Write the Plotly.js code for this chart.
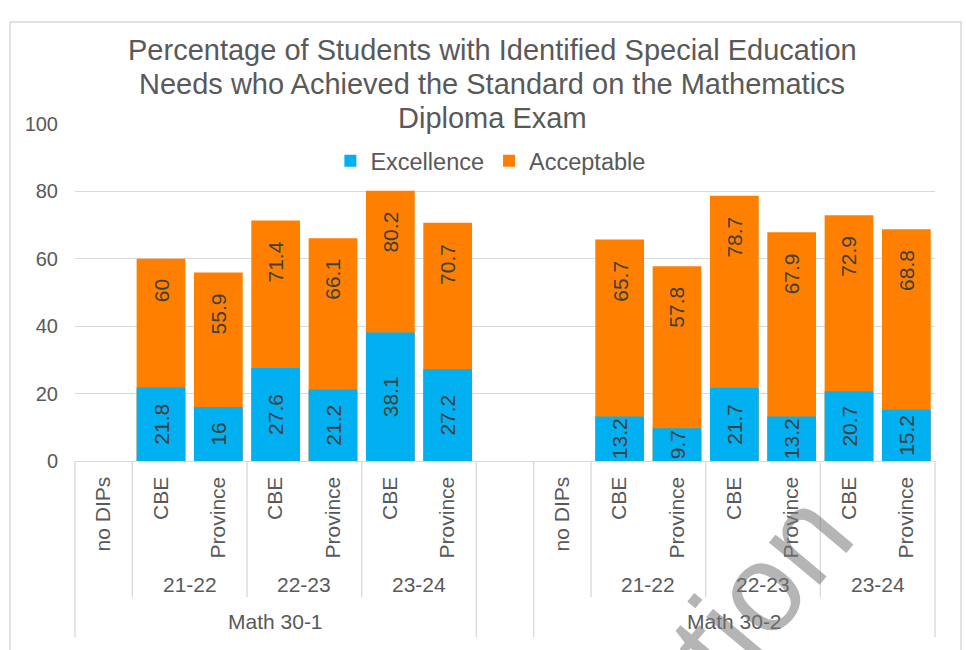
<!DOCTYPE html>
<html>
<head>
<meta charset="utf-8">
<script src="https://cdn.plot.ly/plotly-3.0.1.min.js"></script>
<style>
  html, body { margin: 0; padding: 0; background: #ffffff; overflow: hidden; }
  #wrap { position: relative; width: 966px; height: 650px; overflow: hidden; }
  #chart { width: 966px; height: 650px; }
  #watermark {
    position: absolute; left: 420px; top: 896px;
    transform-origin: 0 0; transform: rotate(-50deg);
    font-family: "Liberation Sans", Arial, sans-serif; font-size: 125px; line-height: 1;
    white-space: nowrap; color: rgba(120,120,120,0.55); pointer-events: none;
  }
</style>
</head>
<body>
<div id="wrap">
  <div id="chart"></div>
  <div id="watermark">Education</div>
</div>
<script>
// ---- Data ----
const titleLines = [
  "Percentage of Students with Identified Special Education",
  "Needs who Achieved the Standard on the Mathematics",
  "Diploma Exam"
];
const courses = ["Math 30-1", "Math 30-2"];
const years = ["21-22", "22-23", "23-24"];
const groups = ["CBE", "Province"];
const noDipsLabel = "no DIPs";
const excellence301 = [21.8, 16, 27.6, 21.2, 38.1, 27.2];
const acceptable301 = [60, 55.9, 71.4, 66.1, 80.2, 70.7];
const excellence302 = [13.2, 9.7, 21.7, 13.2, 20.7, 15.2];
const acceptable302 = [65.7, 57.8, 78.7, 67.9, 72.9, 68.8];
const excellenceByCourse = [excellence301, excellence302];
const acceptableByCourse = [acceptable301, acceptable302];
const seriesNames = ["Excellence", "Acceptable"];

// ---- Build category slots ----
const slotLabel = [], slotYear = [], slotCourse = [], slotExc = [], slotAcc = [];
courses.forEach((c, ci) => {
  if (ci > 0) { slotLabel.push(""); slotYear.push(""); slotCourse.push(""); slotExc.push(null); slotAcc.push(null); }
  slotLabel.push(noDipsLabel); slotYear.push(""); slotCourse.push(c); slotExc.push(null); slotAcc.push(null);
  let k = 0;
  years.forEach(y => {
    groups.forEach(g => {
      slotLabel.push(g); slotYear.push(y); slotCourse.push(c);
      slotExc.push(excellenceByCourse[ci][k]); slotAcc.push(acceptableByCourse[ci][k]);
      k++;
    });
  });
});
const N = slotLabel.length;
const xs = slotLabel.map((_, i) => i);

const BLUE = "#00B0F0", ORANGE = "#FF8000";
const LABEL = "#404040", AXIS = "#595959", GRID = "#d9d9d9";
const FONT = "Liberation Sans, Arial, sans-serif";

const traceAcc = {
  type: "bar", name: seriesNames[1], x: xs, y: slotAcc,
  marker: { color: ORANGE, line: { width: 0 } },
  legendrank: 2, hoverinfo: "skip"
};
const traceExc = {
  type: "bar", name: seriesNames[0], x: xs, y: slotExc,
  marker: { color: BLUE, line: { width: 0 } },
  text: slotExc.map(v => v == null ? "" : String(v)),
  textposition: "inside", insidetextanchor: "middle", textangle: -90,
  constraintext: "none", cliponaxis: true,
  textfont: { size: 21, color: LABEL, family: FONT },
  legendrank: 1, hoverinfo: "skip"
};

// ---- Annotations ----
const toPaperX = v => (v + 0.5) / N;
const annotations = [];
// title lines
const TITLE_Y = [1.219, 1.118, 1.017];
titleLines.forEach((t, i) => annotations.push({
  xref: "paper", yref: "paper", x: 0.485, y: TITLE_Y[i], xanchor: "center", yanchor: "middle",
  text: t, showarrow: false, font: { size: 29, color: AXIS, family: FONT }
}));
// Acceptable labels near the top of each orange bar
slotAcc.forEach((v, i) => {
  if (v == null) return;
  annotations.push({
    xref: "x", yref: "y", x: i, y: v, text: String(v), showarrow: false,
    textangle: -90, yanchor: "top", xanchor: "center", yshift: -19,
    font: { size: 21, color: LABEL, family: FONT }
  });
});
// Year group labels and course labels
const shapes = [];
const YEAR_Y = -0.365, COURSE_Y = -0.477, YEAR_LINE = -0.404, COURSE_LINE = -0.522;
function runs(arr) {
  const out = []; let s = 0;
  for (let i = 1; i <= arr.length; i++) {
    if (i === arr.length || arr[i] !== arr[s]) { out.push({ v: arr[s], s: s, e: i - 1 }); s = i; }
  }
  return out;
}
runs(slotCourse).forEach(r => {
  if (r.v) annotations.push({ xref: "x", yref: "paper", x: (r.s + r.e) / 2, y: COURSE_Y, text: r.v,
    xanchor: "center", yanchor: "middle",
    showarrow: false, font: { size: 21, color: AXIS, family: FONT } });
});
const yearKey = slotYear.map((y, i) => slotCourse[i] + "|" + y);
runs(yearKey).forEach(r => {
  const y = slotYear[r.s];
  if (y) annotations.push({ xref: "x", yref: "paper", x: (r.s + r.e) / 2, y: YEAR_Y, text: y,
    xanchor: "center", yanchor: "middle",
    showarrow: false, font: { size: 21, color: AXIS, family: FONT } });
});
// divider lines
const courseBounds = new Set([-0.5]);
runs(slotCourse).forEach(r => courseBounds.add(r.e + 0.5));
const yearBounds = new Set();
runs(yearKey).forEach(r => { if (!courseBounds.has(r.e + 0.5)) yearBounds.add(r.e + 0.5); });
courseBounds.forEach(b => shapes.push({ type: "line", xref: "paper", yref: "paper",
  x0: toPaperX(b), x1: toPaperX(b), y0: 0, y1: COURSE_LINE, line: { color: GRID, width: 1.3 } }));
yearBounds.forEach(b => shapes.push({ type: "line", xref: "paper", yref: "paper",
  x0: toPaperX(b), x1: toPaperX(b), y0: 0, y1: YEAR_LINE, line: { color: GRID, width: 1.3 } }));
// chart-area frame
shapes.push({ type: "rect", xref: "paper", yref: "paper", x0: -0.0756, x1: 1.0302, y0: -0.62, y1: 1.3027,
  line: { color: GRID, width: 1.5 }, fillcolor: "rgba(0,0,0,0)", layer: "above" });

const layout = {
  width: 966, height: 650,
  margin: { l: 75, r: 31, t: 124, b: 189 },
  paper_bgcolor: "#ffffff", plot_bgcolor: "#ffffff",
  barmode: "overlay", bargap: 0.15,
  font: { family: FONT, color: AXIS },
  showlegend: true,
  legend: {
    orientation: "h", x: 0.483, xanchor: "center", y: 0.89, yanchor: "middle",
    font: { size: 23.5, color: AXIS, family: FONT }, bgcolor: "rgba(0,0,0,0)"
  },
  xaxis: {
    type: "linear", range: [-0.5, N - 0.5], tickmode: "array", tickvals: xs, ticktext: slotLabel,
    tickangle: -90, ticks: "", showgrid: false, zeroline: false,
    showline: true, linecolor: GRID, linewidth: 1.3,
    tickfont: { size: 21, color: AXIS, family: FONT }, ticklabelstandoff: 6, fixedrange: true
  },
  yaxis: {
    range: [0, 100], dtick: 20, tick0: 0, showgrid: true, gridcolor: GRID, gridwidth: 1.3,
    zeroline: false, showline: false, ticks: "",
    tickfont: { size: 20, color: AXIS, family: FONT }, ticklabelstandoff: 16, fixedrange: true
  },
  annotations: annotations,
  shapes: shapes
};

Plotly.newPlot("chart", [traceAcc, traceExc], layout, { displayModeBar: false, staticPlot: true });
</script>
</body>
</html>
